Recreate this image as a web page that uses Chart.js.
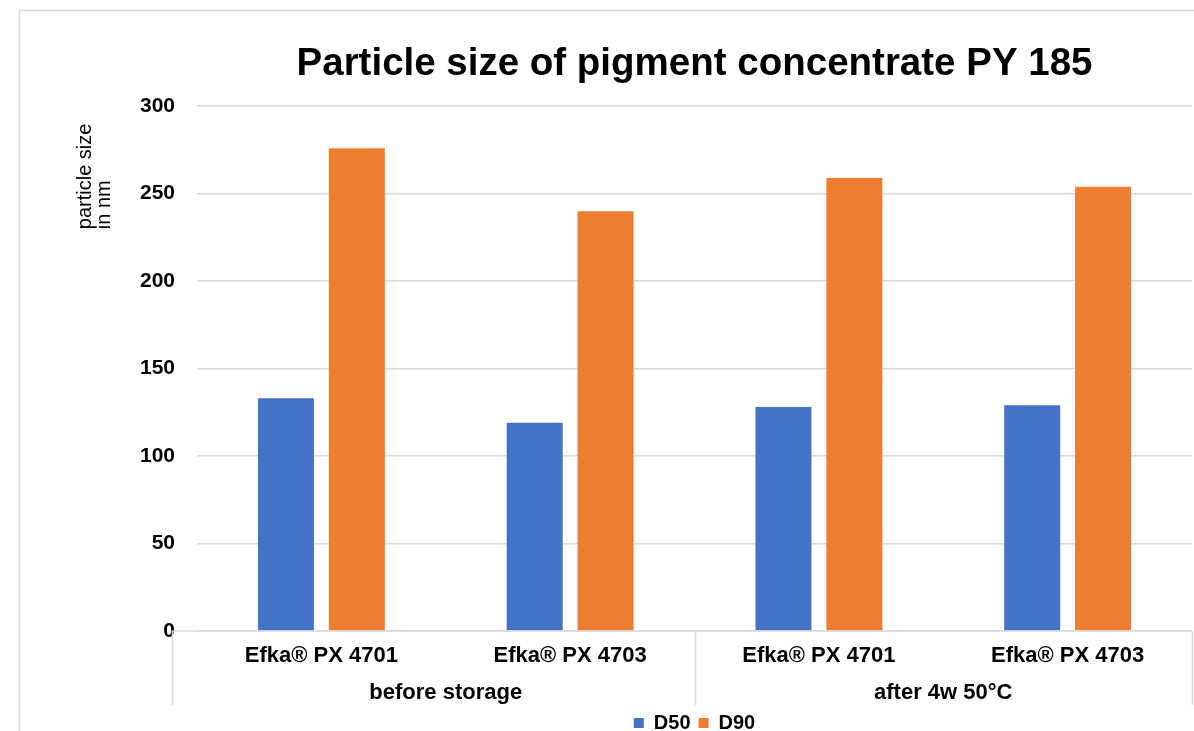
<!DOCTYPE html>
<html>
<head>
<meta charset="utf-8">
<script src="https://cdn.jsdelivr.net/npm/chart.js@4"></script>
<style>
  html, body { margin: 0; padding: 0; background: #fff; overflow: hidden; }
  #wrap { position: relative; width: 1194px; height: 731px; }
</style>
</head>
<body>
<div id="wrap"><canvas id="chart-ps"></canvas></div>
<script>
(() => {
  'use strict';

  // chart data
  const PRODUCTS = ['Efka® PX 4701', 'Efka® PX 4703', 'Efka® PX 4701', 'Efka® PX 4703'];
  const GROUPS = ['before storage', 'after 4w 50°C'];
  const D50 = [133, 119, 128, 129];
  const D90 = [276, 240, 259, 254];
  const Y_TICKS = [0, 50, 100, 150, 200, 250, 300];

  const FONT = '"Liberation Sans", Arial, sans-serif';
  const GRID = '#d9d9d9';

  // white background + outer frame (left/top edges only, rest is cut off)
  const frame = {
    id: 'frame',
    beforeDraw: (chart) => {
      const ctx = chart.ctx;
      ctx.save();
      ctx.fillStyle = '#fff';
      ctx.fillRect(0, 0, chart.width, chart.height);
      ctx.strokeStyle = GRID;
      ctx.lineWidth = 1.5;
      ctx.beginPath();
      ctx.moveTo(19.5, chart.height);
      ctx.lineTo(19.5, 10.5);
      ctx.lineTo(chart.width, 10.5);
      ctx.stroke();
      ctx.restore();
    },
  };

  // excel style multi level category box + rotated y title
  const catBox = {
    id: 'catBox',
    afterDraw: (chart) => {
      const { ctx, chartArea: a } = chart;
      const x = chart.scales.x;
      const x2 = chart.scales.x2;
      const left = a.left - 25, bottom = x2.bottom;
      const mid = (x.getPixelForValue(1) + x.getPixelForValue(2)) / 2;
      ctx.save();
      ctx.strokeStyle = GRID;
      ctx.lineWidth = 1.5;
      ctx.beginPath();
      ctx.moveTo(left, a.bottom);
      ctx.lineTo(a.right, a.bottom);
      [left, mid, a.right].forEach((px) => {
        ctx.moveTo(Math.round(px) + 0.5, a.bottom);
        ctx.lineTo(Math.round(px) + 0.5, bottom);
      });
      ctx.stroke();

      // y axis title, two lines, reading bottom to top
      ctx.fillStyle = '#000';
      ctx.font = '20px ' + FONT;
      ctx.textAlign = 'left';
      ctx.textBaseline = 'top';
      ctx.translate(75, a.top + 123);
      ctx.rotate(-Math.PI / 2);
      ['particle size', 'in nm'].forEach((t, i) => ctx.fillText(t, 0, i * 19));
      ctx.restore();
    },
  };

  const tickFont = { family: FONT, size: 22, weight: 'bold', lineHeight: 1 };

  new Chart(document.getElementById('chart-ps'), {
    type: 'bar',
    data: {
      labels: PRODUCTS,
      datasets: [{
        label: 'D50',
        data: D50,
        backgroundColor: '#4472c4',
      }, {
        label: 'D90',
        data: D90,
        backgroundColor: '#ed7d31',
      }],
    },
    options: {
      responsive: true,
      maintainAspectRatio: false,
      animation: false,
      categoryPercentage: 0.57,
      barPercentage: 0.79,

      layout: {
        padding: { left: 118, right: 2, top: 10, bottom: -12 },
      },

      scales: {
        y: {
          min: 0,
          max: 300,
          afterBuildTicks: (s) => { s.ticks = Y_TICKS.map((v) => ({ value: v })); },
          ticks: { font: { family: FONT, size: 21, weight: 'bold' }, color: '#000', padding: 22 },
          grid: { color: GRID, lineWidth: 1.5, drawTicks: false },
          border: { display: false },
        },

        x: {
          ticks: { font: tickFont, color: '#000', padding: 14, autoSkip: false, maxRotation: 0 },
          grid: { display: false, drawTicks: false },
          border: { display: false },
        },

        // second level of the category axis
        x2: {
          type: 'category',
          labels: GROUPS,
          position: 'bottom',
          offset: true,
          ticks: { font: tickFont, color: '#000', padding: 1, autoSkip: false, maxRotation: 0 },
          grid: { display: false, drawTicks: false },
          border: { display: false },
        },
      },

      plugins: {
        title: {
          display: true,
          fullSize: false,
          text: 'Particle size of pigment concentrate PY 185',
          color: '#000',
          font: { family: FONT, size: 38.5, weight: 'bold' },
          padding: { top: 31, bottom: 19 },
        },

        legend: {
          position: 'bottom',
          fullSize: false,
          labels: {
            color: '#000',
            font: { family: FONT, size: 20, weight: 'bold' },
            boxWidth: 10,
            boxHeight: 10,
            padding: 8,
          },
        },

        tooltip: { enabled: false },
      },
    },
    plugins: [frame, catBox],
  });
})();
</script>
</body>
</html>
